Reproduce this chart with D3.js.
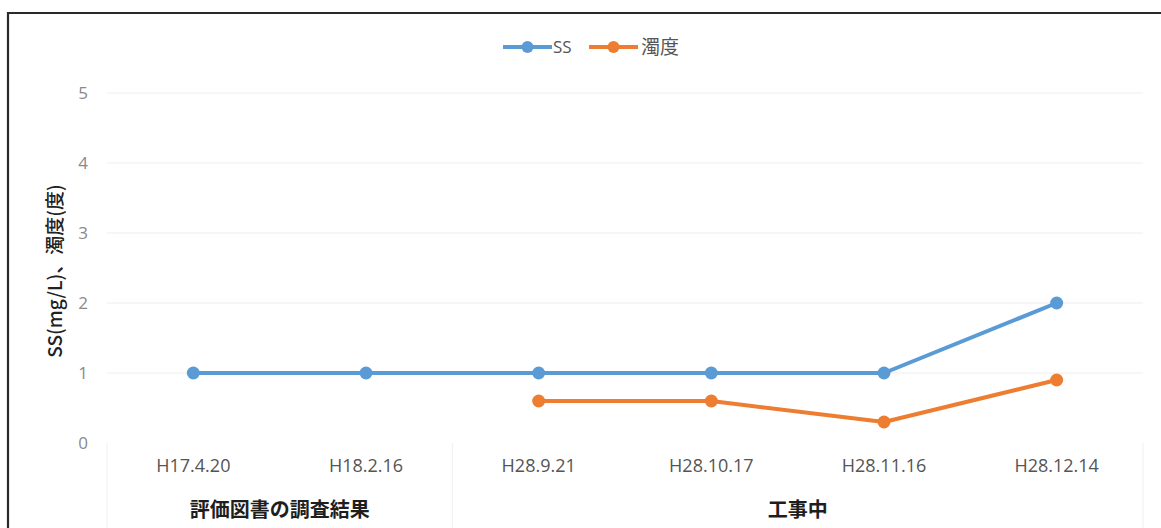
<!DOCTYPE html>
<html>
<head>
<meta charset="utf-8">
<script src="https://cdn.jsdelivr.net/npm/d3@7"></script>
<style>
  html, body { margin: 0; padding: 0; background: #fff; }
  svg { display: block; }
</style>
</head>
<body>
<svg id="chart" width="1161" height="528"></svg>
<script>
// Sampling dates and the two measured series
const categories = ["H17.4.20", "H18.2.16", "H28.9.21", "H28.10.17", "H28.11.16", "H28.12.14"];
const ssValues = [1, 1, 1, 1, 1, 2];
const turbidityValues = [null, null, 0.6, 0.6, 0.3, 0.9];
const yTicks = [0, 1, 2, 3, 4, 5];
// Second-level category groups
const groupNames = ["評価図書の調査結果", "工事中"];
const groupSpans = [[0, 1], [2, 5]];
const seriesNames = ["SS", "濁度"];
const seriesColors = ["#5b9bd5", "#ed7d31"];
const yTitle = "SS(mg/L)、濁度(度)";

const latin = "'Open Sans', 'Noto Sans', sans-serif";
const cjk = "'Noto Sans CJK JP', 'Noto Sans', sans-serif";

const svg = d3.select("#chart");
const plot = { left: 107, right: 1143, top: 93, bottom: 443 };

const x = d3.scaleBand().domain(categories).range([plot.left, plot.right]);
const y = d3.scaleLinear().domain([0, 5]).range([plot.bottom, plot.top]);

// Frame
svg.append("path")
  .attr("d", `M8,528 V13 H1161`)
  .attr("fill", "none")
  .attr("stroke", "#2a2a2a")
  .attr("stroke-width", 2.2);

// Horizontal gridlines
svg.append("g")
  .selectAll("line")
  .data(yTicks.filter(d => d > 0))
  .join("line")
  .attr("x1", plot.left).attr("x2", plot.right)
  .attr("y1", d => y(d)).attr("y2", d => y(d))
  .attr("stroke", "#ededed")
  .attr("stroke-width", 1.2);

// Y axis labels
const yAxis = d3.axisLeft(y).tickValues(yTicks).tickFormat(d3.format("d")).tickSize(0).tickPadding(0);
const yg = svg.append("g").attr("transform", `translate(${plot.left - 19},0)`).call(yAxis);
yg.select(".domain").remove();
yg.selectAll("text")
  .attr("font-family", latin)
  .attr("font-size", 17)
  .attr("fill", "#8a8a8a");

// Category axis
const xAxis = d3.axisBottom(x).tickSize(0).tickPadding(0);
const xg = svg.append("g").attr("transform", `translate(0,${plot.bottom + 16})`).call(xAxis);
xg.select(".domain").remove();
xg.selectAll("text")
  .attr("font-family", latin)
  .attr("font-size", 18)
  .attr("fill", "#555");

// Group divider ticks below the axis
const dividerX = [x(categories[0]), x(categories[2]), x(categories[5]) + x.bandwidth()];
svg.append("g")
  .selectAll("line")
  .data(dividerX)
  .join("line")
  .attr("x1", d => d).attr("x2", d => d)
  .attr("y1", plot.bottom).attr("y2", 528)
  .attr("stroke", "#f0f0f0")
  .attr("stroke-width", 1);

// Group labels
svg.append("g")
  .selectAll("text")
  .data(groupNames)
  .join("text")
  .attr("x", (d, i) => (x(categories[groupSpans[i][0]]) + x(categories[groupSpans[i][1]]) + x.bandwidth()) / 2)
  .attr("y", 510)
  .attr("dy", "0.36em")
  .attr("text-anchor", "middle")
  .attr("font-family", cjk)
  .attr("font-size", 20)
  .attr("font-weight", 700)
  .attr("fill", "#1e1e1e")
  .text(d => d);

// Y axis title
svg.append("text")
  .attr("transform", `translate(55,271) rotate(-90)`)
  .attr("text-anchor", "middle")
  .attr("dy", "0.36em")
  .attr("font-family", cjk)
  .attr("font-size", 19)
  .attr("font-weight", 500)
  .attr("fill", "#222")
  .text(yTitle);

// Series lines and markers
const series = [ssValues, turbidityValues];
const line = d3.line()
  .defined(d => d.v !== null)
  .x(d => x(d.c) + x.bandwidth() / 2)
  .y(d => y(d.v));

series.forEach((vals, si) => {
  const pts = vals.map((v, i) => ({ c: categories[i], v }));
  const g = svg.append("g");
  g.append("path")
    .datum(pts)
    .attr("d", line)
    .attr("fill", "none")
    .attr("stroke", seriesColors[si])
    .attr("stroke-width", 4)
    .attr("stroke-linejoin", "round");
  g.selectAll("circle")
    .data(pts.filter(d => d.v !== null))
    .join("circle")
    .attr("cx", d => x(d.c) + x.bandwidth() / 2)
    .attr("cy", d => y(d.v))
    .attr("r", 6.5)
    .attr("fill", seriesColors[si]);
});

// Legend
const legendItems = [
  { name: seriesNames[0], color: seriesColors[0], x0: 503, tx: 553 },
  { name: seriesNames[1], color: seriesColors[1], x0: 589, tx: 641 }
];
const lg = svg.append("g");
legendItems.forEach(it => {
  lg.append("line")
    .attr("x1", it.x0).attr("x2", it.x0 + 49)
    .attr("y1", 47).attr("y2", 47)
    .attr("stroke", it.color)
    .attr("stroke-width", 4);
  lg.append("circle")
    .attr("cx", it.x0 + 24.5).attr("cy", 47).attr("r", 6)
    .attr("fill", it.color);
  lg.append("text")
    .attr("x", it.tx).attr("y", 47)
    .attr("dy", "0.36em")
    .attr("font-family", it.name === "SS" ? latin : cjk)
    .attr("font-size", it.name === "SS" ? 17 : 19)
    .attr("fill", "#555")
    .text(it.name);
});
</script>
</body>
</html>
